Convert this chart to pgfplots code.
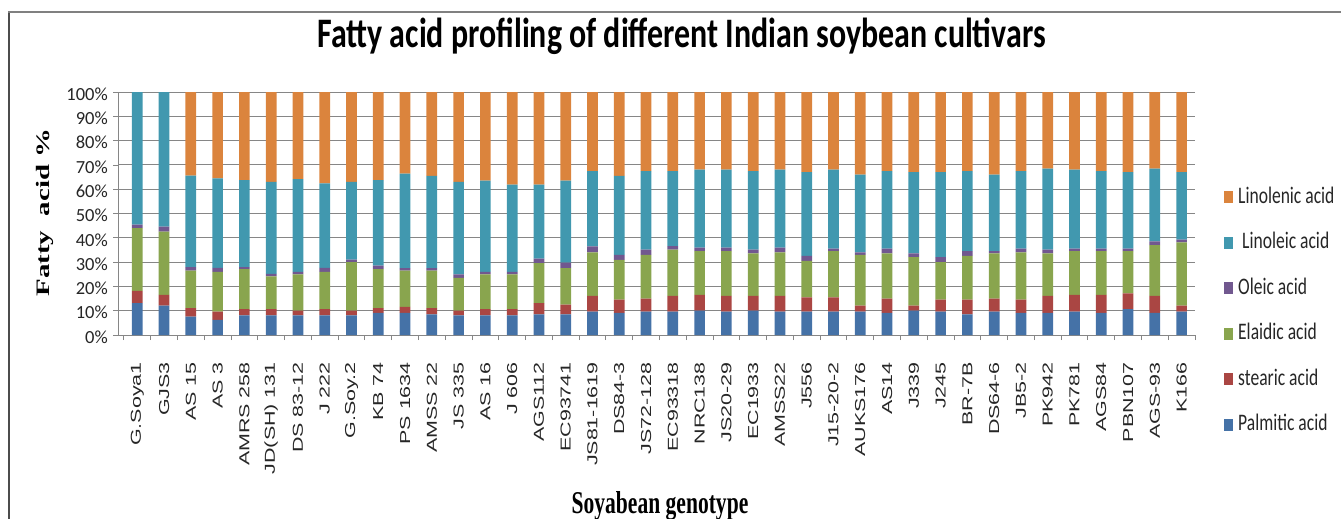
\documentclass[border=0pt]{standalone}
\usepackage{pgfplots}
\pgfplotsset{compat=1.18}
\usepackage{pgfplotstable}
\usepackage{fontspec}
\setmainfont{Carlito}
\newfontfamily\titlefont{Carlito}[FakeStretch=0.76]
\newfontfamily\legfont{Carlito}[FakeStretch=0.74]
\newfontfamily\xtfont{Liberation Sans}[FakeStretch=1.49]
\newfontfamily\xlabfont{Liberation Serif}[FakeStretch=0.68]
\newfontfamily\ylabfont{Liberation Serif}[FakeStretch=1.52]
\definecolor{cpal}{HTML}{4572A7}
\definecolor{cste}{HTML}{AA4643}
\definecolor{cela}{HTML}{89A54E}
\definecolor{cole}{HTML}{71588F}
\definecolor{clin}{HTML}{4198AF}
\definecolor{clnl}{HTML}{DB843D}
\definecolor{cgrid}{HTML}{868686}
\pgfplotstableread{
x P S E O L N
0 13.1 5.1 25.8 1.4 54.6 0
1 12.1 4.4 26.0 2.1 55.4 0
2 7.6 3.5 15.4 1.4 37.7 34.4
3 6.2 3.4 16.4 1.6 36.9 35.5
4 8.1 2.5 16.5 0.8 35.8 36.3
5 8.1 2.5 13.5 1.1 37.8 37.0
6 8.1 1.9 15.0 1.0 38.1 35.9
7 8.1 2.5 15.4 1.6 34.8 37.6
8 8.1 1.9 20.0 1.0 32.0 37.0
9 9.1 2.0 16.0 1.5 35.1 36.3
10 9.1 2.5 14.9 1.0 38.9 33.6
11 8.5 2.6 15.4 1.0 38.0 34.5
12 8.1 1.9 13.5 1.5 38.0 37.0
13 8.1 2.5 14.4 1.0 37.5 36.5
14 8.1 2.5 14.4 1.0 35.9 38.1
15 8.5 4.6 16.5 1.8 30.5 38.1
16 8.5 4.0 15.0 2.3 33.7 36.5
17 9.6 6.5 17.9 2.5 30.9 32.6
18 9.1 5.5 16.3 2.1 32.5 34.5
19 9.6 5.4 18.0 2.1 32.3 32.6
20 9.6 6.5 19.0 1.5 30.8 32.6
21 10.0 6.5 18.0 1.5 32.1 31.9
22 9.6 6.5 18.4 1.5 32.1 31.9
23 10.0 6.1 17.5 1.5 32.3 32.6
24 9.6 6.5 17.9 2.0 32.1 31.9
25 9.6 5.9 15.0 2.1 34.4 33.0
26 9.6 5.9 19.0 1.0 32.6 31.9
27 9.6 2.5 20.9 1.0 32.0 34.0
28 9.1 5.9 18.6 1.9 31.9 32.6
29 10.0 2.1 19.9 1.6 33.4 33.0
30 9.6 5.0 15.4 2.0 35.0 33.0
31 8.5 6.1 18.0 1.9 32.9 32.6
32 9.6 5.4 18.6 0.9 31.5 34.0
33 9.1 5.5 19.4 1.5 31.9 32.6
34 9.1 7.0 17.5 1.5 33.4 31.5
35 9.6 6.9 18.0 1.0 32.6 31.9
36 9.1 7.4 18.0 1.0 31.9 32.6
37 10.6 6.5 17.4 1.0 31.5 33.0
38 9.1 7.0 20.9 1.5 30.0 31.5
39 9.6 2.5 26.0 1.1 27.8 33.0
}\data
\begin{document}
\begin{tikzpicture}
\useasboundingbox (0pt,0pt) rectangle (1341pt,-519pt);
\begin{axis}[
  at={(118pt,-335pt)}, anchor=south west,
  scale only axis, width=1077pt, height=243pt,
  ybar stacked, bar width=10.7pt,
  xmin=-0.72, xmax=39.5, ymin=0, ymax=100,
  axis x line*=bottom, axis y line*=left,
  axis line style={draw=cgrid, line width=1pt, -},
  xtick={0,...,39},
  xticklabels={G.Soya1,GJS3,AS 15,AS 3,AMRS 258,JD(SH) 131,DS 83-12,J 222,G.Soy.2,KB 74,PS 1634,AMSS 22,JS 335,AS 16,J 606,AGS112,EC93741,JS81-1619,DS84-3,JS72-128,EC93318,NRC138,JS20-29,EC1933,AMSS22,J556,J15-20-2,AUKS176,AS14,J339,J245,BR-7B,DS64-6,JB5-2,PK942,PK781,AGS84,PBN107,AGS-93,K166},
  major x tick style={draw=none},
  minor xtick={-0.5,0.5,...,39.5},
  minor x tick style={draw=cgrid, line width=0.8pt},
  tick align=outside, major tick length=5pt, minor tick length=5pt,
  xticklabel style={yshift=-22pt, rotate=90, anchor=east, inner sep=0pt, font=\xtfont\fontsize{14.4}{15}\selectfont, text=black!85},
  ytick={0,10,...,100},
  yticklabels={0\%,10\%,20\%,30\%,40\%,50\%,60\%,70\%,80\%,90\%,100\%},
  yticklabel style={inner sep=0pt, xshift=-5pt, yshift=-2pt, font=\fontsize{18.5}{19}\selectfont, text=black!85},
  major y tick style={draw=cgrid, line width=0.8pt},
  ymajorgrids, grid style={draw=cgrid, line width=1pt},
  legend image code/.code={\fill[#1] (0pt,-6pt) rectangle (9pt,6pt);},
  reverse legend,
  legend cell align=left,
  legend style={at={(1.0269,0.613)}, anchor=north west, draw=none, fill=none, inner sep=0pt,
    row sep=23.5pt, font=\legfont\fontsize{23.7}{24}\selectfont, text=black!85,
    nodes={inner sep=0pt, text height=17pt, text depth=5pt},
    /tikz/every odd column/.append style={column sep=5pt}},
]
\addplot[fill=cpal, draw=none] table[x=x, y=P]{\data};
\addplot[fill=cste, draw=none] table[x=x, y=S]{\data};
\addplot[fill=cela, draw=none] table[x=x, y=E]{\data};
\addplot[fill=cole, draw=none] table[x=x, y=O]{\data};
\addplot[fill=clin, draw=none] table[x=x, y=L]{\data};
\addplot[fill=clnl, draw=none] table[x=x, y=N]{\data};
\legend{Palmitic acid, stearic acid, Elaidic acid, Oleic acid, \hspace{4pt}Linoleic acid, Linolenic acid}
\end{axis}
\node[anchor=base, font=\titlefont\bfseries\fontsize{42}{44}\selectfont] at (681.5pt,-48pt) {Fatty acid profiling of different Indian soybean cultivars};
\node[anchor=base, rotate=90, font=\ylabfont\bfseries\fontsize{19}{20}\selectfont] at (49.3pt,-212.5pt) {Fatty~~acid \%};
\node[anchor=base, font=\xlabfont\bfseries\fontsize{31.7}{33}\selectfont] at (660pt,-513pt) {Soyabean genotype};
\draw[line width=2.5pt, draw=black!70] (9pt,-519pt) -- (9pt,-12pt);
\draw[line width=2pt, draw=black!50] (8pt,-12pt) -- (1341pt,-12pt);
\end{tikzpicture}
\end{document}
